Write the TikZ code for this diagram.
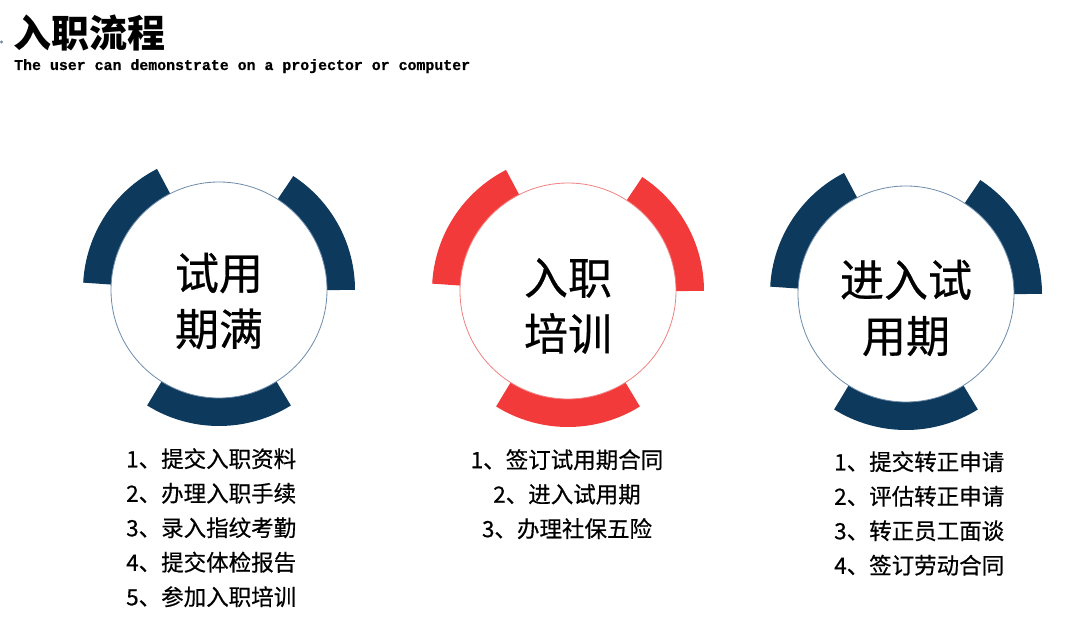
\documentclass[tikz,border=0pt]{standalone}
\usepackage{fontspec}
\newfontfamily\cjk[FakeBold=0.5]{Noto Sans CJK SC}
\newfontfamily\cjkhead{Noto Sans CJK SC}
\newfontfamily\codefont[FakeBold=0.6]{Liberation Mono}
\usepackage{xcolor}
\definecolor{NavyRing}{RGB}{12,57,92}
\definecolor{RedRing}{RGB}{243,58,58}
\definecolor{NavyEdge}{RGB}{110,140,170}
\definecolor{RedEdge}{RGB}{240,130,130}
\usetikzlibrary{positioning}

\begin{document}
\begin{tikzpicture}[x=1pt, y=1pt,
    ringseg/.style={line width=30pt},
    stagedisk/.style={circle, fill=white, minimum size=216pt, inner sep=0pt, line width=0.8pt},
    stagetext/.style={font=\cjk\fontsize{44}{56}\selectfont, align=center, inner sep=0pt},
    itemlist/.style={font=\cjk\fontsize{22.5}{34.5}\selectfont, inner sep=0pt}]

  \fill[white] (0,0) rectangle (1080,629);
  \useasboundingbox (0,0) rectangle (1080,629);

  % heading
  \fill[NavyEdge] (1.5,587) circle (1.6pt);
  \node[font=\cjkhead\bfseries\fontsize{38}{40}\selectfont, anchor=west, inner sep=0pt] (title) at (13,596) {入职流程};
  \node[font=\codefont\bfseries\fontsize{14.9}{16}\selectfont, anchor=north west, inner sep=0pt] (subtitle) at (14,570)
    {The user can demonstrate on a projector or computer};

  % three stages
  \coordinate (c1) at (219,339);
  \coordinate (c2) at (568,338);
  \coordinate (c3) at (906,335);

  \foreach \c/\col in {c1/NavyRing, c2/RedRing, c3/NavyRing}
    \foreach \a/\b in {0/57, 117/177, 238/302}
      \draw[ringseg, \col] ([shift={(\a:121pt)}]\c) arc[start angle=\a, end angle=\b, radius=121pt];

  \node[stagedisk, draw=NavyEdge] (d1) at (c1) {};
  \node[stagedisk, draw=RedEdge] (d2) at (c2) {};
  \node[stagedisk, draw=NavyEdge] (d3) at (c3) {};

  \node[stagetext] (t1) at ([yshift=-11pt]d1.center) {试用\\期满};
  \node[stagetext] (t2) at ([yshift=-15pt]d2.center) {入职\\培训};
  \node[stagetext] (t3) at ([yshift=-14pt]d3.center) {进入试\\用期};

  % item lists
  \node[itemlist, align=left, anchor=north west] (l1) at (126,181)
    {1、提交入职资料\\2、办理入职手续\\3、录入指纹考勤\\4、提交体检报告\\5、参加入职培训};
  \node[itemlist, align=center, anchor=north] (l2) at (567,180)
    {1、签订试用期合同\\2、进入试用期\\3、办理社保五险};
  \node[itemlist, align=left, anchor=north west] (l3) at (834,178)
    {1、提交转正申请\\2、评估转正申请\\3、转正员工面谈\\4、签订劳动合同};
\end{tikzpicture}
\end{document}
